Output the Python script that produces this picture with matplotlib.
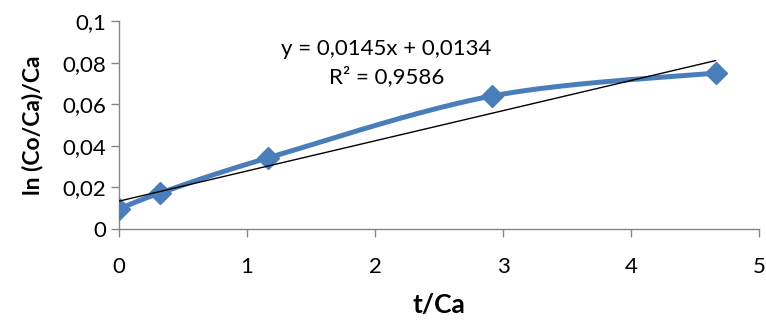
import numpy as np
import matplotlib
matplotlib.use("Agg")
import matplotlib.pyplot as plt

x = [0.0, 0.32, 1.16, 2.91, 4.66]
y = [0.0096, 0.0173, 0.0341, 0.0639, 0.0750]
slope, intercept = 0.0145, 0.0134
eq_text = "y = 0,0145x + 0,0134\nR² = 0,9586"
xticks = [0, 1, 2, 3, 4, 5]
yticks = [0, 0.02, 0.04, 0.06, 0.08, 0.1]
ytick_labels = ["0", "0,02", "0,04", "0,06", "0,08", "0,1"]

plt.rcParams['font.family'] = ['Lato', 'DejaVu Sans']

def smooth(px, py, n=40):
    P = np.column_stack([px, py])
    P = np.vstack([P[0], P, P[-1]])
    out = []
    for i in range(1, len(P) - 2):
        p0, p1, p2, p3 = P[i - 1], P[i], P[i + 1], P[i + 2]
        c1 = p1 + (p2 - p0) / 6
        c2 = p2 - (p3 - p1) / 6
        t = np.linspace(0, 1, n)[:, None]
        b = (1 - t) ** 3 * p1 + 3 * (1 - t) ** 2 * t * c1 + 3 * (1 - t) * t ** 2 * c2 + t ** 3 * p2
        out.append(b)
    out = np.vstack(out)
    return out[:, 0], out[:, 1]

fig = plt.figure(figsize=(7.66, 3.22), dpi=100)
ax = fig.add_axes([0.1554, 0.2888, 0.991 - 0.1554, 0.9348 - 0.2888])

sx, sy = smooth(x, y)
ax.plot(sx, sy, color='#4A7EBB', lw=3.6, solid_capstyle='round', zorder=2)
ax.plot(x, y, linestyle='none', marker='D', markersize=11.5, color='#4A7EBB', zorder=3)
tx = np.array([x[0], x[-1]])
ax.plot(tx, slope * tx + intercept, color='black', lw=1.0, zorder=4)

ax.text(2.09, 0.0798, eq_text, ha='center', va='center', fontsize=16, linespacing=1.45)

ax.set_xlim(0, 5)
ax.set_ylim(0, 0.1)
ax.set_xticks(xticks)
ax.set_xticklabels([str(v) for v in xticks])
ax.set_yticks(yticks)
ax.set_yticklabels(ytick_labels)
for s in ['top', 'right']:
    ax.spines[s].set_visible(False)
for s in ['left', 'bottom']:
    ax.spines[s].set_color('#868686')
    ax.spines[s].set_linewidth(1.0)
ax.tick_params(axis='both', direction='out', length=6, color='#868686', labelsize=16, width=1.0)
ax.tick_params(axis='x', pad=14)
ax.tick_params(axis='y', pad=3)
ax.set_xlabel('t/Ca', fontsize=19, fontweight='bold', labelpad=12)
ax.set_ylabel('ln (Co/Ca)/Ca', fontsize=16.5, fontweight='bold', labelpad=14)

fig.savefig('out.png', dpi=100)
